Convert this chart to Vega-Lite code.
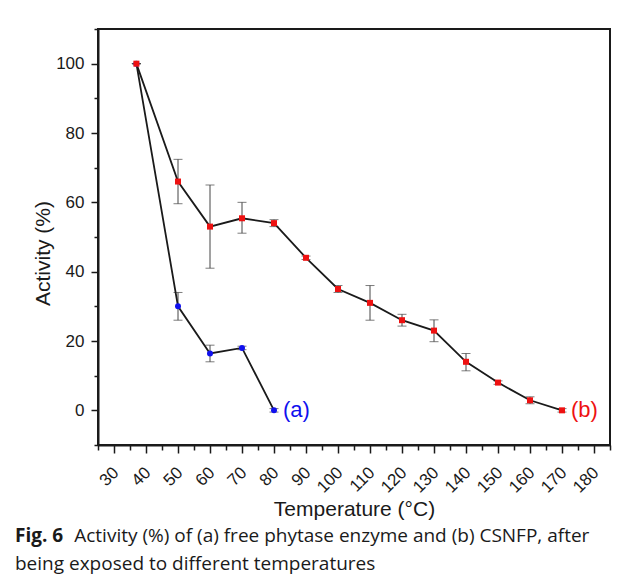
{
  "$schema": "https://vega.github.io/schema/vega-lite/v6.json",
  "width": 512,
  "height": 416,
  "autosize": {"type": "none"},
  "padding": {"left": 98, "top": 29, "right": 14, "bottom": 139},
  "background": "white",
  "config": {
    "view": {"stroke": "#1a1a1a", "strokeWidth": 2},
    "axis": {"domainColor": "#1a1a1a", "domainWidth": 2, "tickColor": "#1a1a1a", "tickWidth": 1.5, "grid": false,
      "labelFont": "Liberation Sans", "labelFontSize": 17, "labelColor": "#1a1a1a",
      "titleFont": "Liberation Sans", "titleFontSize": 21, "titleFontWeight": "normal", "titleColor": "#1a1a1a"}
  },
  "title": {
    "text": "Fig. 6",
    "subtitle": ["\u200b\u00a0\u00a0\u00a0\u00a0\u00a0\u00a0\u00a0\u00a0\u00a0\u00a0\u00a0\u00a0Activity (%) of (a) free phytase enzyme and (b) CSNFP, after", "being exposed to different temperatures"],
    "orient": "bottom",
    "anchor": "start",
    "frame": "group",
    "dx": -83,
    "offset": 8,
    "font": "Open Sans",
    "fontSize": 19,
    "fontWeight": "bold",
    "color": "#1a1a1a",
    "subtitleFont": "Open Sans",
    "subtitleFontSize": 19,
    "subtitleColor": "#1a1a1a",
    "subtitleLineHeight": 28,
    "subtitlePadding": -19
  },
  "data": {"values": [
    {"series": "a", "temp": 37, "act": 100, "lo": 100, "hi": 100},
    {"series": "a", "temp": 50, "act": 30, "lo": 26, "hi": 34},
    {"series": "a", "temp": 60, "act": 16.4, "lo": 14, "hi": 18.8},
    {"series": "a", "temp": 70, "act": 18, "lo": 17.5, "hi": 18.5},
    {"series": "a", "temp": 80, "act": 0, "lo": -0.5, "hi": 0.5},
    {"series": "b", "temp": 37, "act": 100, "lo": 100, "hi": 100},
    {"series": "b", "temp": 50, "act": 66, "lo": 59.6, "hi": 72.4},
    {"series": "b", "temp": 60, "act": 53, "lo": 41, "hi": 65},
    {"series": "b", "temp": 70, "act": 55.4, "lo": 51.1, "hi": 60},
    {"series": "b", "temp": 80, "act": 54, "lo": 53, "hi": 55},
    {"series": "b", "temp": 90, "act": 44, "lo": 43.5, "hi": 44.5},
    {"series": "b", "temp": 100, "act": 35, "lo": 34, "hi": 36},
    {"series": "b", "temp": 110, "act": 31, "lo": 26, "hi": 36},
    {"series": "b", "temp": 120, "act": 26, "lo": 24.3, "hi": 27.7},
    {"series": "b", "temp": 130, "act": 23, "lo": 19.8, "hi": 26.1},
    {"series": "b", "temp": 140, "act": 14, "lo": 11.4, "hi": 16.4},
    {"series": "b", "temp": 150, "act": 8, "lo": 7.5, "hi": 8.5},
    {"series": "b", "temp": 160, "act": 2.9, "lo": 1.9, "hi": 3.9},
    {"series": "b", "temp": 170, "act": 0, "lo": -0.5, "hi": 0.5}
  ]},
  "encoding": {
    "x": {"field": "temp", "type": "quantitative",
      "scale": {"domain": [25, 185], "nice": false, "zero": false},
      "axis": {"title": "Temperature (°C)", "values": [25,30,35,40,45,50,55,60,65,70,75,80,85,90,95,100,105,110,115,120,125,130,135,140,145,150,155,160,165,170,175,180,185],
        "labelExpr": "datum.value % 10 === 0 && datum.value >= 30 && datum.value <= 180 ? datum.label : ''",
        "tickSize": {"condition": {"test": "datum.value % 10 === 0", "value": 8}, "value": 5},
        "labelAngle": -45, "labelPadding": 11, "labelOffset": -4, "titlePadding": 3, "labelFlush": false, "labelOverlap": false}},
    "y": {"field": "act", "type": "quantitative",
      "scale": {"domain": [-10, 110], "nice": false, "zero": false},
      "axis": {"title": "Activity (%)", "values": [-10,0,10,20,30,40,50,60,70,80,90,100,110],
        "labelExpr": "datum.value % 20 === 0 && datum.value >= 0 && datum.value <= 100 ? datum.label : ''",
        "tickSize": {"condition": {"test": "datum.value % 20 === 0", "value": 7}, "value": 4},
        "labelPadding": 7, "titlePadding": 2, "titleY": 224, "labelFlush": false, "labelOverlap": false}}
  },
  "layer": [
    {"mark": {"type": "rule", "color": "#444", "strokeWidth": 1},
     "encoding": {"y": {"field": "lo", "type": "quantitative"}, "y2": {"field": "hi"}}},
    {"mark": {"type": "tick", "orient": "horizontal", "color": "#444", "size": 9, "thickness": 1},
     "encoding": {"y": {"field": "lo", "type": "quantitative"}}},
    {"mark": {"type": "tick", "orient": "horizontal", "color": "#444", "size": 9, "thickness": 1},
     "encoding": {"y": {"field": "hi", "type": "quantitative"}}},
    {"mark": {"type": "line", "color": "#1a1a1a", "strokeWidth": 1.8},
     "encoding": {"detail": {"field": "series"}}},
    {"mark": {"type": "point", "filled": true, "opacity": 1},
     "encoding": {
       "shape": {"field": "series", "type": "nominal", "scale": {"domain": ["a", "b"], "range": ["circle", "square"]}, "legend": null},
       "color": {"field": "series", "type": "nominal", "scale": {"domain": ["a", "b"], "range": ["#1010ee", "#ee1111"]}, "legend": null},
       "size": {"value": 36}}},
    {"data": {"values": [{"series": "a", "label": "(a)", "temp": 80, "act": 0}, {"series": "b", "label": "(b)", "temp": 170, "act": 0}]},
     "mark": {"type": "text", "align": "left", "baseline": "middle", "dx": 9, "font": "Liberation Sans", "fontSize": 22},
     "encoding": {"text": {"field": "label"},
       "color": {"field": "series", "type": "nominal", "scale": {"domain": ["a", "b"], "range": ["#1010ee", "#ee1111"]}, "legend": null}}}
  ]
}
